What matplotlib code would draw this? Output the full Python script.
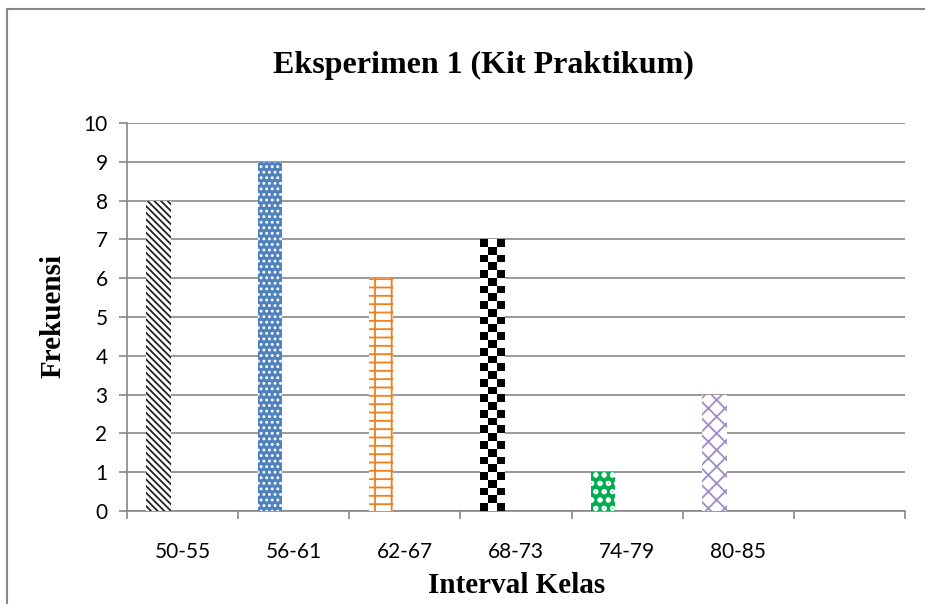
import numpy as np
import matplotlib.pyplot as plt
from matplotlib.patches import Rectangle

# data
kelas = ['50-55', '56-61', '62-67', '68-73', '74-79', '80-85', '']
frekuensi = [8, 9, 6, 7, 1, 3]
warna_isi = ['white', '#4F81BD', 'white', 'white', '#00B050', 'white']
warna_pola = ['#222222', 'white', '#F07F20', 'white', 'white', '#A08CC8']
pola = ['\\\\\\\\\\', '...', '+-', '', 'oo', 'xx']

plt.rcParams['hatch.linewidth'] = 1.3

fig = plt.figure(figsize=(9.25, 6.04), dpi=100)
ax = fig.add_axes([0.1373, 0.154, 0.8411, 0.6424])

pos = list(range(len(kelas)))
bars = []
for i, v in enumerate(frekuensi):
    b = ax.bar(pos[i] - 0.215, v, width=0.22, color=warna_isi[i],
               edgecolor=warna_pola[i], hatch=pola[i], linewidth=0, zorder=3)
    bars.append(b[0])

# checkerboard fill for 68-73
b = bars[3]
n_rows = int(round(b.get_height() * 5))
papan = np.indices((n_rows, 3)).sum(axis=0) % 2
ax.imshow(papan, cmap='gray', extent=(b.get_x(), b.get_x() + b.get_width(), 0, b.get_height()),
          aspect='auto', interpolation='nearest', zorder=4)

ax.set_xlim(-0.5, len(kelas) - 0.5)
ax.set_ylim(0, 10)
ax.set_yticks(range(0, 11))
ax.set_xticks(pos)
ax.set_xticklabels(kelas, fontfamily='Lato', fontsize=15)
ax.set_xticks([p - 0.5 for p in pos] + [len(kelas) - 0.5], minor=True)
ax.tick_params(axis='x', which='major', length=0, pad=22)
ax.tick_params(axis='x', which='minor', length=6, color='#888888', width=1.2)
ax.tick_params(axis='y', length=6, color='#888888', width=1.2, pad=8)
for lab in ax.get_yticklabels():
    lab.set_fontfamily('Lato')
    lab.set_fontsize(15)

ax.grid(axis='y', color='#888888', linewidth=1.2, zorder=0)
ax.set_axisbelow(True)
for s in ['top', 'right']:
    ax.spines[s].set_visible(False)
for s in ['left', 'bottom']:
    ax.spines[s].set_color('#888888')
    ax.spines[s].set_linewidth(1.2)

fig.text(0.523, 0.892, 'Eksperimen 1 (Kit Praktikum)', ha='center', va='center',
         fontfamily='Liberation Serif', fontweight='bold', fontsize=23)
fig.text(0.057, 0.477, 'Frekuensi', ha='center', va='center', rotation=90,
         fontfamily='Liberation Serif', fontweight='bold', fontsize=21)
fig.text(0.559, 0.031, 'Interval Kelas', ha='center', va='center',
         fontfamily='Liberation Serif', fontweight='bold', fontsize=21)

fig.patches.append(Rectangle((7 / 925, -0.05), 1.2, 1 - 9 / 604 + 0.05,
                             transform=fig.transFigure, fill=False,
                             edgecolor='#888888', linewidth=1.5))

fig.savefig('out.png', dpi=100)
